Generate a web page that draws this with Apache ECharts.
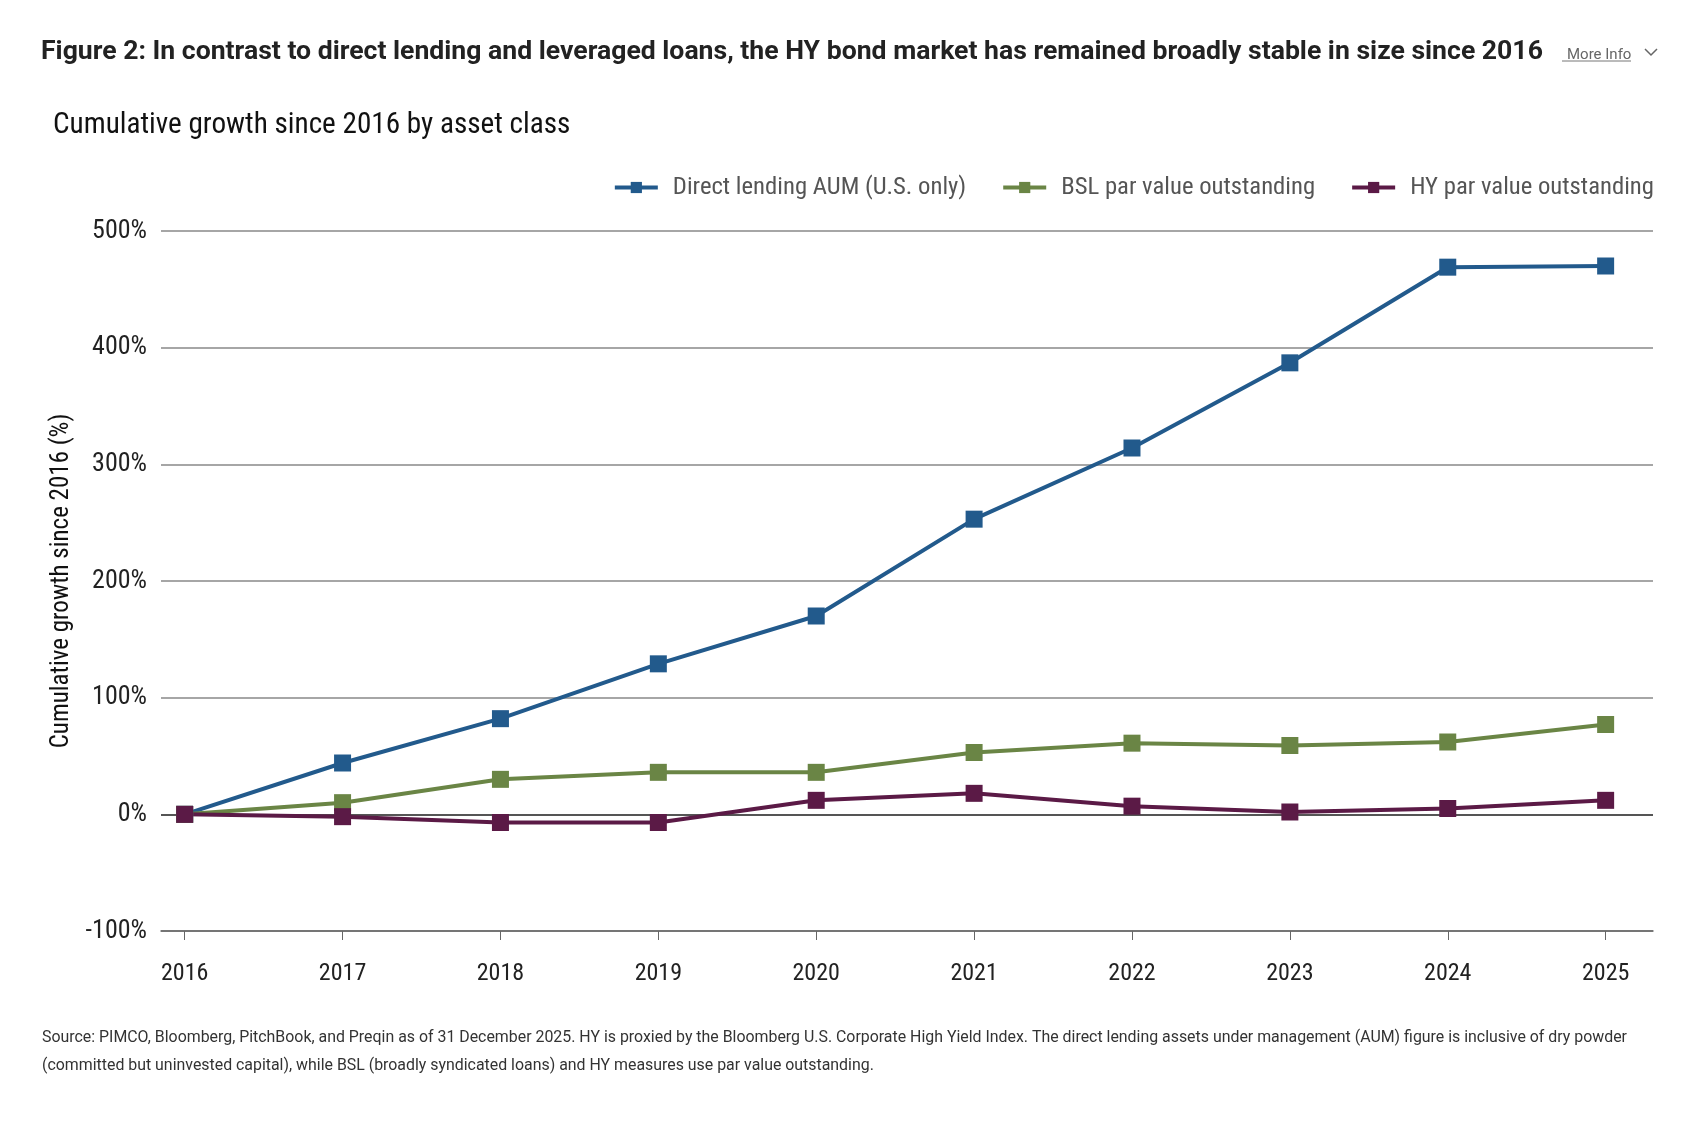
<!DOCTYPE html>
<html lang="en">
<head>
    <meta charset="UTF-8">
    <title>Cumulative growth since 2016</title>
    <script src="https://cdn.jsdelivr.net/npm/echarts@6/dist/echarts.min.js"></script>
    <style>
        body { margin: 0; background: #fff; }
    </style>
</head>
<body>
<div id="box1" style="width: 1688px;height: 1136px"></div>
<script>
    var years = [2016, 2017, 2018, 2019, 2020, 2021, 2022, 2023, 2024, 2025];
    var directLending = [0, 44, 82, 129, 170, 253, 314, 387, 469, 470];
    var bslPar = [0, 10, 30, 36, 36, 53, 61, 59, 62, 77];
    var hyPar = [0, -2, -7, -7, 12, 18, 7, 2, 5, 12];
    var yTicks = [-100, 0, 100, 200, 300, 400, 500];

    // condensed look: try a condensed face, else ask Roboto for its narrow width
    var narrowFamily = '"Roboto Condensed", Roboto, sans-serif';
    var narrowWeight = 'condensed';

    function pairs(vals) {
        return years.map(function (y, i) { return [y, vals[i]]; });
    }

    function lineSeries(name, vals, color, withZero) {
        var s = {
            name: name,
            type: 'line',
            data: pairs(vals),
            symbol: 'rect',
            symbolSize: 17,
            lineStyle: { color: color, width: 4 },
            itemStyle: { color: color },
            emphasis: { disabled: true },
            z: 3
        };
        if (withZero) {
            s.markLine = {
                silent: true,
                symbol: 'none',
                label: { show: false },
                lineStyle: { color: '#555', width: 2, type: 'solid' },
                data: [{ yAxis: 0 }],
                z: 1
            };
        }
        return s;
    }

    var mychart = echarts.init(document.getElementById("box1"));

    var option = {
        animation: false,
        textStyle: { fontFamily: 'Roboto, sans-serif' },
        title: [{
            text: 'Figure 2: In contrast to direct lending and leveraged loans, the HY bond market has remained broadly stable in size since 2016',
            left: 36, top: 34,
            textStyle: { fontFamily: 'Roboto', fontWeight: 'bold', fontSize: 26.6, color: '#222' }
        }, {
            text: 'More Info',
            left: 1562, top: 43,
            textStyle: { fontFamily: 'Roboto', fontWeight: 'normal', fontSize: 15, color: '#666' }
        }, {
            text: 'Cumulative growth since 2016 by asset class',
            left: 48, top: 106,
            textStyle: { fontFamily: narrowFamily, fontWeight: narrowWeight, fontSize: 29.2, color: '#111' }
        }, {
            text: 'Source: PIMCO, Bloomberg, PitchBook, and Preqin as of 31 December 2025. HY is proxied by the Bloomberg U.S. Corporate High Yield Index. The direct lending assets under management (AUM) figure is inclusive of dry powder\n(committed but uninvested capital), while BSL (broadly syndicated loans) and HY measures use par value outstanding.',
            left: 37, top: 1019,
            textStyle: { fontFamily: 'Roboto', fontWeight: 'normal', fontSize: 15.9, color: '#333', lineHeight: 28 }
        }],
        graphic: [{
            type: 'line',
            shape: { x1: 1562, y1: 61, x2: 1631, y2: 61 },
            style: { stroke: '#777', lineWidth: 1 }
        }, {
            type: 'polyline',
            shape: { points: [[1645, 49], [1651, 55], [1657, 49]] },
            style: { stroke: '#666', lineWidth: 1.5, fill: null }
        }],
        legend: {
            top: 170,
            right: 29,
            itemWidth: 43,
            itemHeight: 14,
            itemGap: 35,
            lineStyle: { width: 4 },
            textStyle: { fontFamily: narrowFamily, fontWeight: narrowWeight, fontSize: 24.7, color: '#555', padding: [0, 0, 0, 10] },
            data: ['Direct lending AUM (U.S. only)', 'BSL par value outstanding', 'HY par value outstanding']
        },
        grid: { left: 161, right: 35, top: 231, bottom: 205, containLabel: false },
        xAxis: {
            type: 'value',
            min: 2015.85,
            max: 2025.3,
            axisLine: { onZero: false, lineStyle: { color: '#666', width: 1.5 } },
            axisTick: { show: true, customValues: years, length: 9, lineStyle: { color: '#666' } },
            axisLabel: {
                customValues: years,
                margin: 31,
                fontFamily: narrowFamily, fontWeight: narrowWeight, fontSize: 24, color: '#222',
                formatter: function (v) { return String(v); }
            },
            splitLine: { show: false }
        },
        yAxis: {
            type: 'value',
            min: yTicks[0],
            max: yTicks[yTicks.length - 1],
            interval: 100,
            name: 'Cumulative growth since 2016 (%)',
            nameLocation: 'middle',
            nameGap: 80,
            nameRotate: 90,
            nameTextStyle: { fontFamily: narrowFamily, fontWeight: narrowWeight, fontSize: 25, color: '#111' },
            axisLine: { show: false },
            axisTick: { show: false },
            axisLabel: {
                formatter: '{value}%',
                margin: 14,
                fontFamily: narrowFamily, fontWeight: narrowWeight, fontSize: 26, color: '#222'
            },
            splitLine: { lineStyle: { color: '#888', width: 1.5 } }
        },
        series: [
            lineSeries('Direct lending AUM (U.S. only)', directLending, '#225a8c', true),
            lineSeries('BSL par value outstanding', bslPar, '#6a8545', false),
            lineSeries('HY par value outstanding', hyPar, '#5b1a46', false)
        ]
    };
    mychart.setOption(option);
</script>
</body>
</html>
